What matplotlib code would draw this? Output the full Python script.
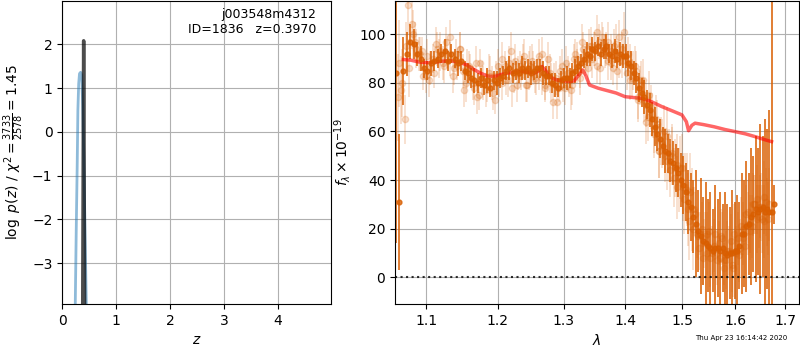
import numpy as np
import matplotlib
matplotlib.use('Agg')
import matplotlib.pyplot as plt
from matplotlib.ticker import FixedLocator, NullLocator, FormatStrFormatter

# ---- redshift fit: log p(z) ----
z_coarse = [0.22, 0.245, 0.26, 0.278, 0.29, 0.305, 0.32, 0.34, 0.36,
            0.38, 0.40, 0.42, 0.44, 0.46, 0.48]
lnp_coarse = [-6.0, -3.6, -2.2, -0.7, 0.5, 1.1, 1.33, 1.36, 1.3,
              0.6, -0.6, -2.1, -3.5, -4.8, -6.2]
z_fine = [0.36, 0.375, 0.385, 0.392, 0.397, 0.402, 0.409, 0.42, 0.43]
lnp_fine = [-10.0, -5.5, -2.0, 0.6, 2.08, 0.6, -2.0, -5.5, -10.0]

root = 'j003548m4312'
obj_id = 1836
z_best = 0.3970
chi2, dof = 3733, 2578

# ---- 1D spectrum (G141), flux in 1e-19 ----
wave_step = 0.0046
comb_start, beamA_start, beamB_start = 1.0605, 1.0628, 1.0640

comb_flux = [84, 31, 85, 92, 97, 96, 92, 90, 86, 85, 88, 89, 90, 92, 93,
             89, 92, 90, 88, 89, 85, 84, 82, 81, 80, 82, 79, 81, 78, 81,
             80, 82, 83, 85, 86, 84, 85, 84, 86, 85, 86, 84, 85, 86, 86,
             84, 83, 83, 80, 79, 78, 81, 82, 82, 82, 84, 85, 87, 88, 90,
             92, 91, 94, 93, 95, 92, 94, 95, 92, 91, 93, 90, 92, 91, 91,
             88, 87, 84, 82, 78, 76, 74, 71, 69, 65, 62, 59, 57, 54, 52,
             51, 48, 47, 45, 43, 40, 38, 35, 31, 29, 25, 22, 19, 17, 15,
             14, 13, 12, 11, 12, 12, 11, 12, 10, 9, 10, 10, 11, 11, 13,
             18, 18, 21, 22, 25, 26, 28, 27, 28, 29, 27, 28, 27, 27, 30]
comb_err = [70, 28, 14, 9, 7, 6, 5, 5, 4, 4, 5, 4, 4, 4, 5,
            4, 4, 4, 5, 4, 4, 4, 4, 5, 4, 4, 4, 5, 4, 4,
            5, 4, 4, 4, 5, 4, 4, 4, 5, 4, 4, 5, 4, 4, 4,
            5, 4, 4, 4, 5, 4, 4, 4, 5, 4, 4, 5, 4, 4, 4,
            5, 4, 5, 4, 4, 5, 4, 5, 4, 5, 5, 4, 5, 5, 5,
            5, 6, 5, 6, 6, 6, 7, 6, 7, 7, 8, 7, 8, 8, 9,
            8, 9, 9, 10, 10, 11, 12, 12, 13, 14, 15, 22, 17, 24, 18,
            25, 19, 23, 17, 26, 20, 24, 18, 25, 21, 19, 26, 20, 23, 18,
            25, 22, 27, 21, 28, 24, 30, 26, 35, 29, 38, 33, 42, 130, 8]

beamA_flux = [74, 77, 65, 112, 104, 97,
              92, 93, 83, 81, 90, 96, 90, 88, 97, 90, 83, 92, 94, 85, 80,
              87, 80, 88, 75, 82, 77, 84, 80, 73, 87, 80, 87, 81, 93, 83,
              79, 87, 89, 79, 85, 89, 82, 84, 92, 78, 84, 84, 72, 82, 78,
              87, 78, 84, 77, 90, 87, 85, 97, 89, 86, 95, 94, 87, 97, 99,
              93, 89, 93, 86, 96, 89, 94, 101, 84, 88, 82, 87, 73, 79, 81,
              71, 66, 70, 61, 65, 52, 56, 60, 48, 50, 51, 41, 46, 40, 45,
              32, 36, 23, 28, 28, 18, 12, 20, 14, 10, 19, 10, 13, 7, 14,
              17, 7, 7, 10, 15, 4, 11, 16, 12, 20, 13, 27, 22, 21, 30,
              32, 25, 29, 23, 31, 24]
beamB_flux = [88, 80, 95, 86, 100, 94,
              92, 83, 91, 86, 84, 94, 93, 87, 92, 99, 86, 87, 94, 77, 86,
              86, 78, 74, 88, 80, 79, 83, 76, 83, 81, 90, 81, 88, 78, 89,
              84, 83, 91, 79, 87, 86, 81, 91, 82, 79, 90, 80, 81, 72, 85,
              79, 88, 81, 79, 92, 90, 82, 94, 90, 95, 90, 94, 101, 86, 97,
              94, 97, 88, 95, 85, 99, 89, 91, 92, 81, 85, 85, 74, 81, 73,
              64, 75, 67, 59, 63, 52, 55, 50, 58, 44, 50, 45, 37, 45, 37,
              37, 28, 35, 20, 26, 17, 18, 8, 17, 18, 8, 11, 18, 10, 8,
              16, 4, 11, 11, 5, 18, 10, 9, 21, 16, 26, 22, 19, 30, 30,
              24, 29, 24, 33, 27, 30]
beam_err = [18, 14, 10, 12, 10, 8,
            7, 6, 7, 7, 6, 7, 8, 7, 6, 7, 7, 6, 7, 7,
            8, 6, 7, 7, 6, 7, 7, 8, 7, 6, 7, 7, 6, 7,
            8, 7, 7, 6, 7, 7, 8, 7, 6, 7, 7, 6, 7, 8,
            7, 7, 6, 7, 7, 7, 8, 6, 7, 7, 7, 6, 7, 8,
            7, 7, 7, 6, 7, 8, 7, 7, 8, 7, 7, 8, 7, 8,
            8, 8, 9, 8, 9, 9, 10, 9, 10, 10, 11, 10, 11, 12, 11, 12,
            12, 13, 13, 14, 14, 15, 16, 17,
            9, 10, 9, 11, 10, 9, 12, 10, 11, 10, 9, 11, 10, 12, 10, 11,
            12, 10, 11, 12, 11, 12, 13, 12, 13, 12, 14, 13, 14, 15, 14, 15]

model_wave = [1.0701, 1.0800, 1.0900, 1.1009, 1.1100, 1.1200, 1.1349, 1.1450,
              1.1554, 1.1650, 1.1750, 1.1850, 1.1950, 1.2050, 1.2150, 1.2250,
              1.2350, 1.2450, 1.2550, 1.2620, 1.2658, 1.2700, 1.2780, 1.2880,
              1.3000, 1.3100, 1.3160, 1.3250, 1.3300, 1.3350, 1.3410, 1.3550,
              1.3700, 1.3850, 1.4000, 1.4290, 1.4450, 1.4640, 1.4820, 1.5000,
              1.5080, 1.5120, 1.5180, 1.5240, 1.5400, 1.5600, 1.5800, 1.5980,
              1.6200, 1.6400, 1.6600, 1.6720]
model_flux = [89.6, 89.3, 88.6, 88.3, 88.4, 88.9, 89.0, 88.5,
              87.4, 85.6, 84.0, 82.8, 82.6, 83.4, 84.1, 84.3,
              84.7, 84.4, 84.0, 85.2, 86.7, 85.5, 82.5, 81.2,
              80.8, 80.6, 80.8, 83.5, 85.3, 83.0, 79.1, 77.8,
              76.8, 75.8, 74.3, 73.6, 72.3, 70.2, 68.5, 66.8,
              64.0, 60.3, 62.5, 63.4, 62.8, 61.9, 60.8, 60.0,
              59.0, 57.8, 56.5, 55.8]

timestamp = 'Thu Apr 23 16:14:42 2020'

comb_wave = comb_start + wave_step * np.arange(len(comb_flux))
beamA_wave = beamA_start + wave_step * np.arange(len(beamA_flux))
beamB_wave = beamB_start + wave_step * np.arange(len(beamB_flux))

orange = (0.85, 0.37, 0.0)

fig = plt.figure(figsize=(8, 3.5), dpi=100)

# left: p(z)
ax = fig.add_axes([0.0778, 0.1314, 0.3358, 0.866])
ax.plot(z_coarse, lnp_coarse, color='C0', alpha=0.5, lw=2)
ax.plot(z_fine, lnp_fine, color='k', alpha=0.7, lw=2.5)
ax.set_xlim(0, 4.98)
ax.set_ylim(max(lnp_fine) - 6.01, max(lnp_fine) + 0.91)
ax.set_xticks([0, 1, 2, 3, 4])
ax.grid(True)
ax.set_xlabel(r'$z$')
ax.set_ylabel(r'$\log\ p(z)$' + ' / ' +
              r'$\chi^2=\frac{' + str(chi2) + '}{' + str(dof) + '}=' +
              '{:.2f}'.format(chi2 / dof) + '$')
ax.text(0.945, 0.975, '{0}\nID={1}   z={2:.4f}'.format(root, obj_id, z_best),
        ha='right', va='top', transform=ax.transAxes, fontsize=9)

# right: spectrum
ax2 = fig.add_axes([0.4938, 0.1314, 0.5052, 0.866])
for w, f in [(beamA_wave, beamA_flux), (beamB_wave, beamB_flux)]:
    ax2.errorbar(w, f, yerr=beam_err, marker='o', ms=4.5, color=orange,
                 alpha=0.2, linestyle='None', elinewidth=1.3)
ax2.errorbar(comb_wave, comb_flux, yerr=comb_err, marker='o', ms=3.5,
             color=orange, alpha=0.8, linestyle='None', elinewidth=1.4)
ax2.plot(model_wave, model_flux, color='r', alpha=0.6, lw=2.5)
ax2.axhline(0, color='k', linestyle=':', lw=1.5, alpha=0.8)

ax2.set_xscale('log')
ax2.set_xlim(1.0594, 1.729)
ax2.set_ylim(-11.0, 113.7)
ax2.xaxis.set_major_locator(FixedLocator([1.1, 1.2, 1.3, 1.4, 1.5, 1.6, 1.7]))
ax2.xaxis.set_major_formatter(FormatStrFormatter('%.1f'))
ax2.xaxis.set_minor_locator(NullLocator())
ax2.set_yticks([0, 20, 40, 60, 80, 100])
ax2.grid(True)
ax2.set_xlabel(r'$\lambda$')
ax2.set_ylabel(r'$f_\lambda \times 10^{-19}$')

fig.text(0.984, 0.025, timestamp, ha='right', va='bottom', fontsize=5)

fig.savefig('out.png', dpi=100)
